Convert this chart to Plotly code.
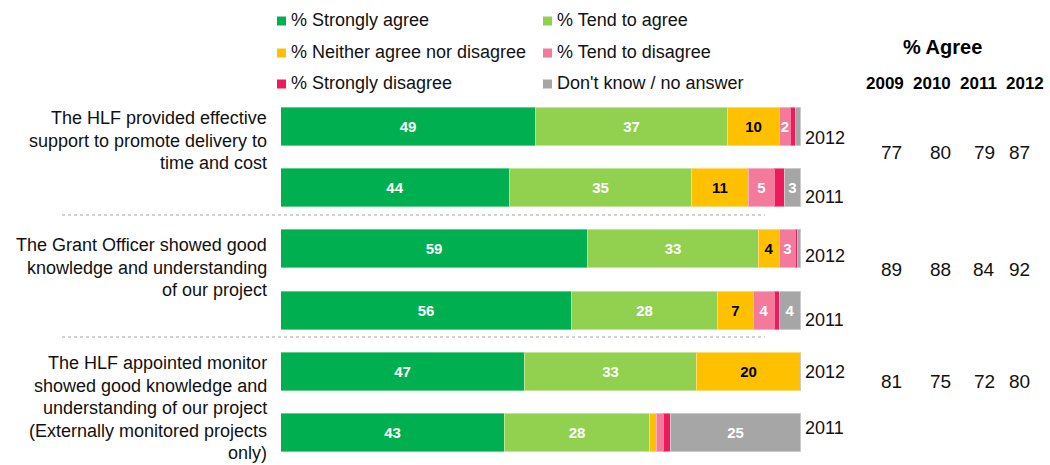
import plotly.graph_objects as go

# ---- data -------------------------------------------------------------
years = ["2012", "2011", "2012", "2011", "2012", "2011"]
statements = [
    ["The HLF provided effective", "support to promote delivery to", "time and cost"],
    ["The Grant Officer showed good", "knowledge and understanding", "of our project"],
    ["The HLF appointed monitor", "showed good knowledge and",
     "understanding of our project", "(Externally monitored projects", "only)"],
]
strongly_agree = [49, 44, 59, 56, 47, 43]
tend_agree = [37, 35, 33, 28, 33, 28]
neither = [10, 11, 4, 7, 20, 1.3]
tend_disagree = [2, 5, 3, 4, 0, 1.3]
strongly_disagree = [1, 2, 0.5, 1, 0, 1.4]
dont_know = [1, 3, 0.5, 4, 0, 25]

agree_years = ["2009", "2010", "2011", "2012"]
agree_2009 = [77, 89, 81]
agree_2010 = [80, 88, 75]
agree_2011 = [79, 84, 72]
agree_2012 = [87, 92, 80]

# ---- styling ----------------------------------------------------------
FONT = "Liberation Sans, Arial, sans-serif"
TXT = "#111111"
W, H = 1050, 465
ML, MR, MT, MB = 281, 249, 96, 1
PW, PH = W - ML - MR, H - MT - MB


def px(x):
    return (x - ML) / PW


def py(y):
    return 1 - (y - MT) / PH


series = [
    ("% Strongly agree", strongly_agree, "#00B050", "#5FCF8C", "white", True),
    ("% Tend to agree", tend_agree, "#92D050", "#C0E49A", "white", True),
    ("% Neither agree nor disagree", neither, "#FFC000", "#FFDA70", "black", True),
    ("% Tend to disagree", tend_disagree, "#F47A9B", "#F9B0C4", "white", True),
    ("% Strongly disagree", strongly_disagree, "#EE1A5B", "#F57DA0", "white", False),
    ("Don't know / no answer", dont_know, "#A6A6A6", "#CACACA", "white", True),
]

rows = list(range(len(years)))

fig = go.Figure()
for name, vals, color, edge, tcolor, labelled in series:
    text = [str(v) if (labelled and v >= 2) else "" for v in vals]
    fig.add_trace(go.Bar(
        x=vals, y=rows, orientation="h", name=name,
        marker=dict(color=color, line=dict(color=edge, width=1)),
        width=0.62,
        text=text, textposition="inside", insidetextanchor="middle",
        textangle=0, constraintext="none",
        textfont=dict(family=FONT, size=15, color=tcolor, weight="bold"),
        hoverinfo="skip", showlegend=False,
    ))

annotations = []
shapes = []

# legend (two columns)
leg_sq_x = [277, 543]
leg_y = [21, 53, 84]
for k, (name, _, color, _, _, _) in enumerate(series):
    cx = leg_sq_x[k % 2]
    cy = leg_y[k // 2]
    shapes.append(dict(type="rect", xref="paper", yref="paper",
                       x0=px(cx), x1=px(cx + 9), y0=py(cy + 4.5), y1=py(cy - 4.5),
                       fillcolor=color, line=dict(width=0)))
    annotations.append(dict(xref="paper", yref="paper", x=px(cx + 12), y=py(cy - 1),
                            xanchor="left", yanchor="middle", showarrow=False,
                            text=name, font=dict(family=FONT, size=18, color=TXT)))

# year labels beside each bar
year_shift = [-11, -9, -7, -9, 0, 5]
for i, yr in enumerate(years):
    annotations.append(dict(xref="x", yref="y", x=100, y=i, xanchor="left",
                            yanchor="middle", xshift=2, yshift=year_shift[i],
                            showarrow=False, text=yr,
                            font=dict(family=FONT, size=18, color=TXT)))

# statement labels, one line at a time
line_gap = 22.5
first_line = [118, 245, 363]
for g, lines in enumerate(statements):
    for k, line in enumerate(lines):
        annotations.append(dict(xref="paper", yref="paper", x=px(269),
                                y=py(first_line[g] + k * line_gap),
                                xanchor="right", yanchor="middle", showarrow=False,
                                text=line, font=dict(family=FONT, size=18, color=TXT)))

# dashed separators between statements
for sep_y in [215, 337]:
    shapes.append(dict(type="line", xref="paper", yref="paper", x0=px(62), x1=px(765),
                       y0=py(sep_y), y1=py(sep_y),
                       line=dict(color="#C4C4C4", width=1.5, dash="3px,3px")))

# % Agree table
annotations.append(dict(xref="paper", yref="paper", x=px(942), y=py(47),
                        xanchor="center", yanchor="middle", showarrow=False,
                        text="<b>% Agree</b>", font=dict(family=FONT, size=20, color="black")))
head_x = [885, 932, 978, 1025]
for yr, hx in zip(agree_years, head_x):
    annotations.append(dict(xref="paper", yref="paper", x=px(hx), y=py(83),
                            xanchor="center", yanchor="middle", showarrow=False,
                            text=f"<b>{yr}</b>", font=dict(family=FONT, size=17, color="black")))
value_x = [891, 940, 984, 1019]
value_y = [152, 269, 381]
for col, vals in enumerate([agree_2009, agree_2010, agree_2011, agree_2012]):
    for r, v in enumerate(vals):
        annotations.append(dict(xref="paper", yref="paper", x=px(value_x[col]),
                                y=py(value_y[r]), xanchor="center", yanchor="middle",
                                showarrow=False, text=str(v),
                                font=dict(family=FONT, size=19, color=TXT)))

fig.update_layout(
    width=W, height=H, barmode="stack", bargap=0,
    margin=dict(l=ML, r=MR, t=MT, b=MB),
    paper_bgcolor="white", plot_bgcolor="white",
    xaxis=dict(range=[0, 100], visible=False, fixedrange=True),
    yaxis=dict(range=[5.5, -0.5], visible=False, fixedrange=True),
    annotations=annotations, shapes=shapes,
)

fig.write_html("out.html")
